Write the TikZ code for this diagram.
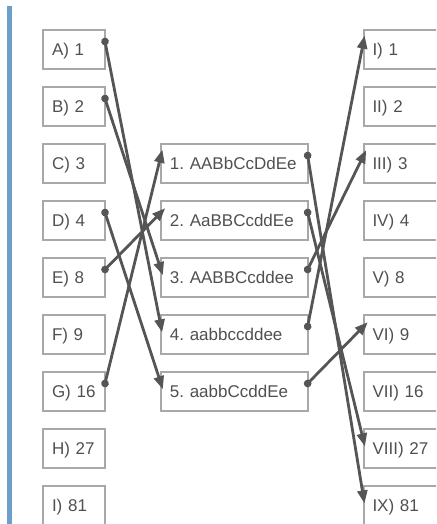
\documentclass[tikz,border=0pt]{standalone}
\usepackage{fontspec}
\setmainfont{Liberation Sans}
\usetikzlibrary{arrows.meta,positioning,calc}
\definecolor{mtchink}{HTML}{505050}
\definecolor{mtchrule}{HTML}{A8A8A8}
\definecolor{mtchline}{HTML}{555555}
\definecolor{mtchbar}{HTML}{6C9FC9}
\frenchspacing

\begin{document}
\begin{tikzpicture}[x=1pt, y=-1pt, font=\fontsize{17}{20}\selectfont,
  box/.style={draw=mtchrule, line width=2pt, outer sep=0pt, inner xsep=9pt, minimum height=39pt,
    text height=12.4pt, text depth=0pt, text=mtchink, align=left},
  lbox/.style={box, text width=44pt},
  mbox/.style={box, text width=128.7pt},
  rbox/.style={box, text width=82pt},
  link/.style={draw=mtchline, line width=2.8pt, {Circle[length=7.5pt]}-{Triangle[length=13pt,width=10pt]},
    shorten <=-3.75pt, shorten >=-6pt}]
  \useasboundingbox (0,0) rectangle (436,524);
  \clip (0,0) rectangle (436,524);
  % ---------- side bar ----------
  \fill[mtchbar] (7,6) rectangle (12,524);
  % ---------- columns ----------
  \foreach \t [count=\i] in {A) 1, B) 2, C) 3, D) 4, E) 8, F) 9, G) 16, H) 27, I) 81}
    { \node[lbox] (l\i) at (74, {49.5+57*(\i-1)}) {\t}; }
  \foreach \t [count=\i] in {1. AABbCcDdEe, 2. AaBBCcddEe, 3. AABBCcddee, 4. aabbccddee, 5. aabbCcddEe}
    { \node[mbox] (m\i) at (234.3, {49.5+57*(\i+1)}) {\mbox{\t}}; }
  \foreach \t [count=\i] in {I) 1, II) 2, III) 3, IV) 4, V) 8, VI) 9, VII) 16, VIII) 27, IX) 81}
    { \node[rbox] (r\i) at (413.5, {49.5+57*(\i-1)}) {\t}; }
  % ---------- matches ----------
  \foreach \a/\b in {l1/m4, l2/m3, l4/m5, l5/m2, l7/m1, m1/r9, m2/r8, m3/r3, m4/r1, m5/r6}
    { \draw[link] ([yshift=8pt]\a.east) -- ([yshift=8pt]\b.west); }
\end{tikzpicture}
\end{document}
